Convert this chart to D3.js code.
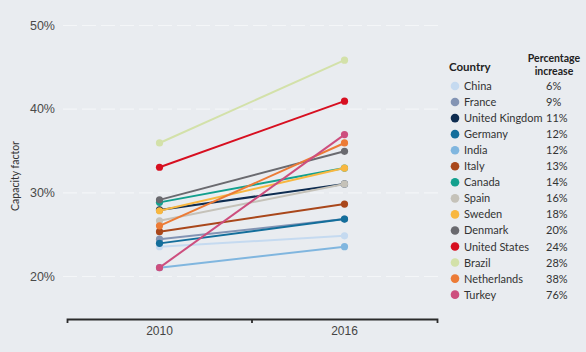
<!DOCTYPE html>
<html>
<head>
<meta charset="utf-8">
<script src="https://cdn.jsdelivr.net/npm/d3@7"></script>
<style>
  html, body { margin: 0; padding: 0; background: #e9ecf0; }
  svg { display: block; font-family: Lato, "Open Sans", sans-serif; }
</style>
</head>
<body>
<svg id="chart" width="586" height="352"></svg>
<script>
const years = ["2010", "2016"];
const countries = ["China", "France", "United Kingdom", "Germany", "India", "Italy", "Canada", "Spain", "Sweden", "Denmark", "United States", "Brazil", "Netherlands", "Turkey"];
const values2010 = [23.5, 24.4, 27.9, 23.9, 21.0, 25.3, 28.8, 26.6, 27.8, 29.1, 33.0, 35.9, 26.0, 21.0];
const values2016 = [24.8, 26.8, 31.0, 26.8, 23.5, 28.6, 32.9, 31.0, 32.9, 34.9, 40.9, 45.8, 35.9, 36.9];
const increases = ["6%", "9%", "11%", "12%", "12%", "13%", "14%", "16%", "18%", "20%", "24%", "28%", "38%", "76%"];
const colors = ["#c5daf0", "#8394b4", "#0e2c50", "#136e9b", "#80b6df", "#a9471b", "#13a08e", "#c5c2b9", "#f8b740", "#6a6a6f", "#d70f20", "#d3e1a9", "#ec7b36", "#cd4e7e"];
const yTicks = [20, 30, 40, 50];

const svg = d3.select("#chart");
const x = d3.scaleBand().domain(years).range([67, 437]);
const y = d3.scaleLinear().domain([20, 50]).range([276, 25]);

// gridlines + y labels
const gy = svg.append("g").attr("transform", "translate(63,0)")
  .call(d3.axisLeft(y).tickValues(yTicks).tickFormat(d => d + "%").tickSize(-377).tickPadding(8));
gy.select(".domain").remove();
gy.selectAll(".tick line").attr("stroke", "#ffffff").attr("stroke-width", 1.2)
  .attr("stroke-dasharray", "14,5").attr("opacity", 0.5);
gy.selectAll(".tick text").attr("fill", "#4a4a4a").style("font-size", "12.5px");

svg.append("text")
  .attr("transform", "translate(19,176) rotate(-90)")
  .attr("text-anchor", "middle")
  .attr("fill", "#333")
  .style("font-size", "10.5px")
  .text("Capacity factor");

// x axis
const gx = svg.append("g").attr("transform", "translate(0,319)")
  .call(d3.axisBottom(x).tickSizeInner(0).tickSizeOuter(4).tickPadding(7));
gx.select(".domain").attr("stroke", "#2b2b2b").attr("stroke-width", 1.8);
gx.selectAll(".tick text").attr("fill", "#444").style("font-size", "12px");
gx.append("line")
  .attr("x1", x("2016")).attr("x2", x("2016"))
  .attr("y1", 0).attr("y2", 4)
  .attr("stroke", "#2b2b2b").attr("stroke-width", 1.8);

// lines
const cx = d => x(d) + x.bandwidth() / 2;
const data = countries.map((c, i) => ({
  country: c, color: colors[i],
  pts: [{ year: "2010", v: values2010[i] }, { year: "2016", v: values2016[i] }]
}));
const line = d3.line().x(p => cx(p.year)).y(p => y(p.v));
const series = svg.append("g").selectAll("g").data(data).join("g");
series.append("path")
  .attr("d", d => line(d.pts))
  .attr("fill", "none").attr("stroke", d => d.color).attr("stroke-width", 2);
series.selectAll("circle").data(d => d.pts.map(p => ({ ...p, color: d.color }))).join("circle")
  .attr("cx", p => cx(p.year)).attr("cy", p => y(p.v)).attr("r", 3.6)
  .attr("fill", p => p.color);

// legend
const lg = svg.append("g");
lg.append("text").attr("x", 449).attr("y", 71).attr("fill", "#222")
  .style("font-size", "11.5px").style("font-weight", "bold").text("Country");
const hdr = lg.append("text").attr("text-anchor", "middle").attr("fill", "#222")
  .style("font-size", "10.5px").style("font-weight", "bold");
hdr.append("tspan").attr("x", 554).attr("y", 62).text("Percentage");
hdr.append("tspan").attr("x", 554).attr("y", 75).text("increase");
const rows = lg.selectAll("g.row").data(data).join("g").attr("class", "row")
  .attr("transform", (d, i) => `translate(0,${86 + i * 16.05})`);
rows.append("circle").attr("cx", 455).attr("cy", 0).attr("r", 4.3).attr("fill", d => d.color);
rows.append("text").attr("x", 464).attr("y", 4).attr("fill", "#333")
  .style("font-size", "11px").text(d => d.country);
rows.append("text").attr("x", 546).attr("y", 4).attr("fill", "#333")
  .style("font-size", "11px").text((d, i) => increases[i]);
</script>
</body>
</html>
